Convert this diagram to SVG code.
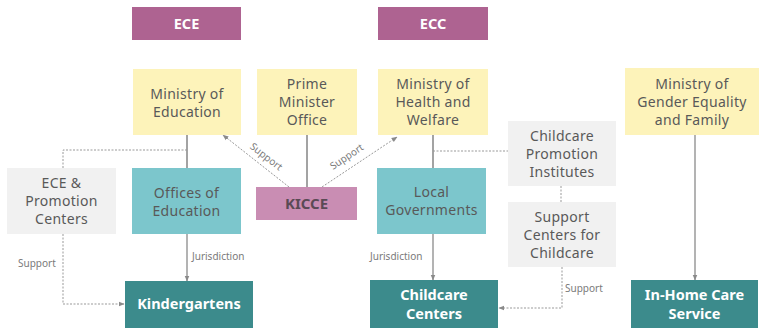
<svg xmlns="http://www.w3.org/2000/svg" width="759" height="328" viewBox="0 0 759 328">
<defs>
<style>
.t{font-family:"Noto Sans","Open Sans",sans-serif;font-size:14px;letter-spacing:0.3px;fill:#595959;text-anchor:middle}
.h{font-family:"Noto Sans","Open Sans",sans-serif;font-size:14.5px;font-weight:bold;fill:#ffffff;text-anchor:middle}
.k{font-family:"Noto Sans","Open Sans",sans-serif;font-size:15px;font-weight:bold;fill:#5a4a55;text-anchor:middle}
.s{font-family:"Noto Sans","Open Sans",sans-serif;font-size:10px;fill:#7a7a7a}
.purple{fill:#ae6391}
.yellow{fill:#fdf3ba}
.lteal{fill:#7cc6cc}
.dteal{fill:#3c8b8c}
.gray{fill:#f1f1f1}
.pink{fill:#c98db3}
.solid{stroke:#a3a3a3;stroke-width:2;fill:none}
.thin{stroke:#9a9a9a;stroke-width:1.5;fill:none}
.dot{stroke:#999;stroke-width:1;stroke-dasharray:2 1.5;fill:none}
</style>
<marker id="arr" viewBox="0 0 10 10" refX="9" refY="5" markerWidth="6" markerHeight="6" orient="auto" markerUnits="userSpaceOnUse">
<path d="M0,1 L10,5 L0,9 z" fill="#8a8a8a"/>
</marker>
</defs>

<g id="connectors">
<path class="solid" d="M187,135 V168"/>
<path class="thin" d="M187,234 V281" marker-end="url(#arr)"/>
<path class="solid" d="M307,135 V187"/>
<path class="solid" d="M433,135 V168"/>
<path class="thin" d="M433,234 V280" marker-end="url(#arr)"/>
<path class="thin" d="M695,135 V280" marker-end="url(#arr)"/>
<path class="dot" d="M187,150 H63 V168"/>
<path class="dot" d="M63,234 V304 H124" marker-end="url(#arr)"/>
<path class="dot" d="M433,151 H508"/>
<path class="dot" d="M561,186 V202"/>
<path class="dot" d="M562,267 V308 H499" marker-end="url(#arr)"/>
<path class="dot" d="M289,187 L223,135" marker-end="url(#arr)"/>
<path class="dot" d="M322,187 L397,137" marker-end="url(#arr)"/>
<text class="s" x="192" y="260">Jurisdiction</text>
<text class="s" x="370" y="260">Jurisdiction</text>
<text class="s" x="18" y="267">Support</text>
<text class="s" x="565" y="292">Support</text>
<text class="s" text-anchor="middle" transform="translate(266,157) rotate(38)" dy="3">Support</text>
<text class="s" text-anchor="middle" transform="translate(347,157) rotate(-34)" dy="3">Support</text>
</g>

<g id="ece"><rect class="purple" x="132" y="7" width="109" height="33"/><text class="h" x="186.5" y="29">ECE</text></g>
<g id="ecc"><rect class="purple" x="378" y="7" width="110" height="33"/><text class="h" x="433" y="29">ECC</text></g>

<g id="moe"><rect class="yellow" x="133" y="69" width="108" height="66"/>
<text class="t" x="187" y="98.5">Ministry of</text><text class="t" x="187" y="116.5">Education</text></g>
<g id="pmo"><rect class="yellow" x="257" y="69" width="100" height="66"/>
<text class="t" x="307" y="89">Prime</text><text class="t" x="307" y="107">Minister</text><text class="t" x="307" y="125">Office</text></g>
<g id="mhw"><rect class="yellow" x="378" y="69" width="110" height="66"/>
<text class="t" x="433" y="89">Ministry of</text><text class="t" x="433" y="107">Health and</text><text class="t" x="433" y="125">Welfare</text></g>
<g id="mgef"><rect class="yellow" x="625" y="68" width="134" height="67"/>
<text class="t" x="692" y="89">Ministry of</text><text class="t" x="692" y="107">Gender Equality</text><text class="t" x="692" y="125">and Family</text></g>

<g id="ecepc"><rect class="gray" x="7" y="168" width="109" height="66"/>
<text class="t" x="61.5" y="188">ECE &amp;</text><text class="t" x="61.5" y="206">Promotion</text><text class="t" x="61.5" y="224">Centers</text></g>
<g id="ooe"><rect class="lteal" x="132" y="168" width="109" height="66"/>
<text class="t" x="186.5" y="198">Offices of</text><text class="t" x="186.5" y="216">Education</text></g>
<g id="kicce"><rect class="pink" x="256" y="187" width="101" height="33"/><text class="k" x="306.5" y="209">KICCE</text></g>
<g id="lg"><rect class="lteal" x="377" y="168" width="109" height="66"/>
<text class="t" x="431.5" y="197">Local</text><text class="t" x="431.5" y="215">Governments</text></g>
<g id="cpi"><rect class="gray" x="508" y="121" width="108" height="65"/>
<text class="t" x="562" y="141">Childcare</text><text class="t" x="562" y="159">Promotion</text><text class="t" x="562" y="177">Institutes</text></g>
<g id="scc"><rect class="gray" x="508" y="202" width="108" height="65"/>
<text class="t" x="562" y="222">Support</text><text class="t" x="562" y="240">Centers for</text><text class="t" x="562" y="258">Childcare</text></g>

<g id="kg"><rect class="dteal" x="125" y="281" width="128" height="50"/><text class="h" x="189" y="309">Kindergartens</text></g>
<g id="cc"><rect class="dteal" x="370" y="280" width="128" height="50"/>
<text class="h" x="434" y="300">Childcare</text><text class="h" x="434" y="319">Centers</text></g>
<g id="ihc"><rect class="dteal" x="631" y="280" width="127" height="50"/>
<text class="h" x="694.5" y="300">In-Home Care</text><text class="h" x="694.5" y="319">Service</text></g>
</svg>
